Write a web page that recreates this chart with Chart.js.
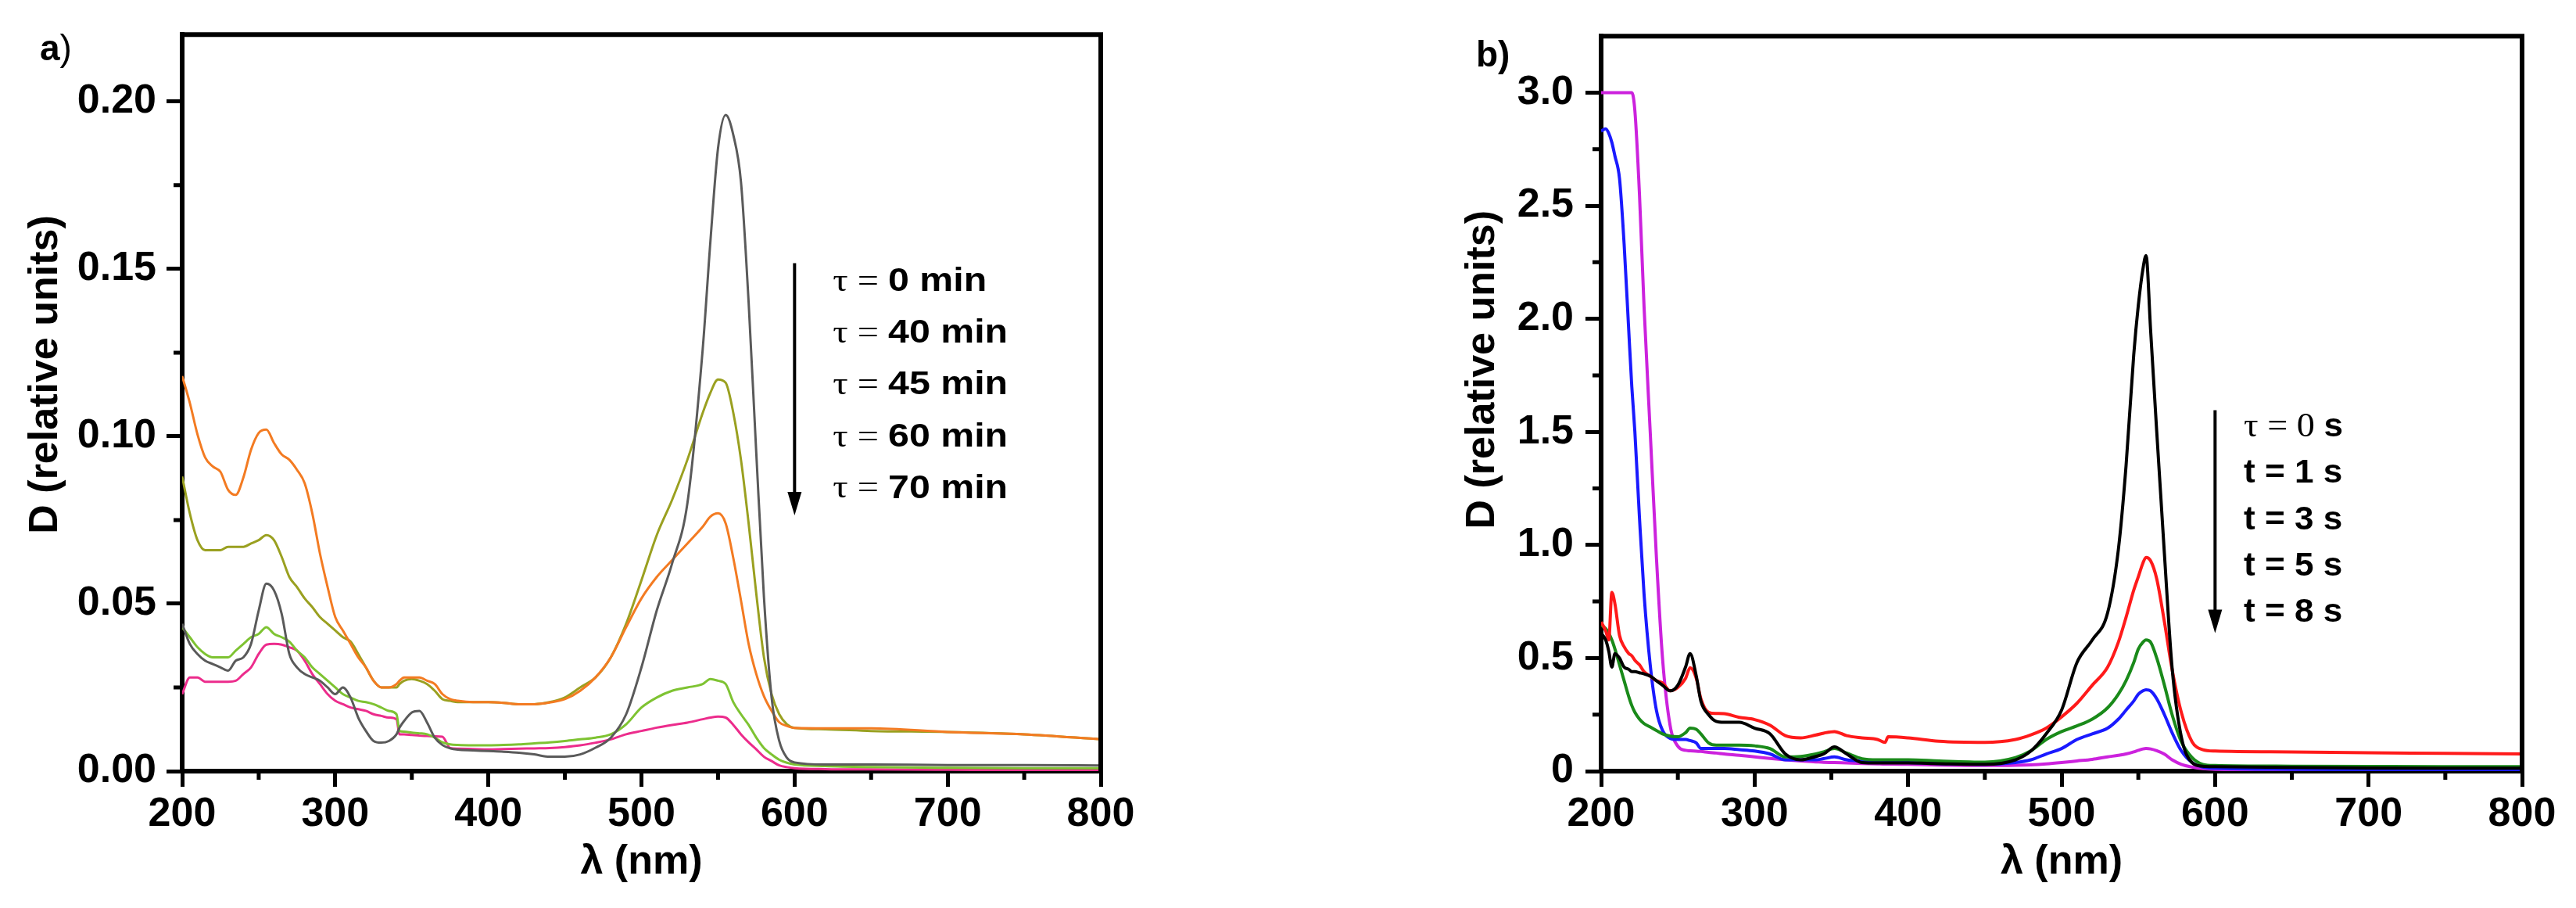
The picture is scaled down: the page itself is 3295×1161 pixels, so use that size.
<!DOCTYPE html>
<html>
<head>
<meta charset="utf-8">
<script src="https://cdn.jsdelivr.net/npm/chart.js@4.4.0/dist/chart.umd.min.js"></script>
<style>
  html, body { margin: 0; padding: 0; background: #fff; }
  #wrap { position: relative; width: 3295px; height: 1161px; overflow: hidden; background: #fff; }
  canvas { position: absolute; top: 0; }
  #chartA { left: 0; }
  #chartB { left: 1750px; }
</style>
</head>
<body>
<div id="wrap">
  <canvas id="chartA" width="1750" height="1161"></canvas>
  <canvas id="chartB" width="1545" height="1161"></canvas>
</div>
<script>
// ---- panel a) : wavelength grid (nm) and optical density D ----
const gridA = [200,205,210,215,220,225,230,235,240,245,250,255,260,265,270,275,280,285,290,295,
  300,305,310,315,320,325,330,335,340,342,345,350,355,360,365,370,375,380,
  390,400,410,420,430,440,450,460,470,480,490,500,510,520,530,540,
  545,550,555,560,565,570,575,580,585,590,595,600,620,650,700,750,800];

const tau0min = [.044,.038,.035,.033,.032,.031,.030,.033,.034,.038,
  .048,.056,.054,.047,.035,.031,.029,.028,.027,.025,
  .023,.025,.022,.016,.012,.009,.0085,.009,.011,.013,
  .015,.0175,.018,.0145,.010,.0078,.0068,.0064,
  .0062,.006,.0058,.0055,.005,.0043,.0043,.005,.007,.010,.017,.031,.048,.062,.080,.126,
  .158,.186,.196,.190,.176,.140,.095,.052,.022,.009,.004,.0026,
  .002,.002,.0018,.0018,.0017];

const tau40min = [.088,.077,.069,.066,.066,.066,.067,.067,.067,.068,
  .069,.0705,.069,.064,.058,.055,.0516,.049,.046,.044,
  .042,.040,.0387,.035,.031,.027,.025,.025,.025,.026,
  .027,.0275,.027,.026,.024,.0215,.021,.0206,
  .0206,.0206,.0204,.020,.020,.0206,.022,.025,.028,.034,.044,.057,.0705,.081,.093,.107,
  .113,.117,.116,.107,.093,.074,.053,.034,.023,.017,.014,.0129,
  .0125,.012,.0117,.011,.0095];

const tau45min = [.118,.110,.1006,.0937,.091,.0894,.084,.0825,.0877,.096,
  .101,.102,.098,.0946,.093,.090,.086,.077,.065,.055,
  .046,.042,.038,.034,.031,.027,.025,.025,.026,.027,
  .028,.028,.028,.027,.026,.023,.0215,.021,
  .0206,.0206,.0204,.020,.020,.0205,.0215,.024,.028,.034,.043,.0516,.058,.063,.068,.073,
  .076,.077,.074,.0636,.051,.038,.029,.0224,.018,.0146,.0135,.0129,
  .0128,.0128,.0117,.011,.0095];

const tau60min = [.043,.040,.037,.035,.034,.034,.034,.036,.038,.040,
  .041,.043,.041,.040,.0387,.036,.034,.031,.029,.027,
  .025,.023,.022,.021,.0206,.020,.019,.018,.017,.012,
  .0118,.0115,.0113,.011,.010,.0086,.008,.0078,
  .0077,.0077,.0078,.008,.0083,.0086,.009,.0095,.010,.011,.014,.019,.022,.024,.025,.026,
  .0275,.027,.026,.0206,.017,.0138,.010,.0069,.005,.0034,.0025,.002,
  .0015,.0012,.001,.0009,.0009];

const tau70min = [.023,.028,.028,.0267,.0267,.0267,.0267,.027,.029,.031,
  .035,.0378,.038,.0378,.037,.036,.033,.029,.026,.023,
  .021,.020,.019,.0185,.018,.017,.0165,.016,.0155,.011,
  .011,.0108,.0106,.0105,.0104,.0103,.0069,.0067,
  .0066,.0065,.0066,.0067,.0068,.0069,.0072,.0077,.0085,.0095,.011,.012,.013,.0138,.0145,.0155,
  .016,.0163,.016,.0138,.011,.0086,.0065,.0043,.003,.0017,.0012,.0009,
  .0006,.0005,.0004,.0003,.0003];

// ---- panel b) ----
const gridB = [200,203,205,207,209,212,215,218,220,222,
  225,228,232,236,240,245,250,255,258,262,
  265,270,275,280,290,300,310,320,330,340,
  345,352,360,370,380,385,387,400,420,450,
  470,480,490,500,510,520,530,537,542,547,
  550,553,555,558,562,567,572,578,585,592,
  600,650,700,750,800];

const t0s = [.61,.58,.53,.46,.52,.50,.46,.45,.44,.44,
  .435,.43,.42,.40,.38,.355,.38,.46,.52,.42,
  .31,.25,.22,.216,.216,.19,.165,.076,.05,.065,
  .076,.107,.076,.038,.036,.036,.036,.036,.033,.03,
  .05,.089,.165,.27,.48,.58,.70,.98,1.35,1.84,
  2.06,2.22,2.28,1.95,1.5,.96,.457,.152,.038,.022,
  .02,.016,.014,.013,.013];

const t1s = [.66,.62,.58,.79,.74,.60,.55,.52,.51,.49,
  .47,.44,.42,.40,.39,.355,.37,.41,.457,.41,
  .32,.26,.255,.254,.238,.228,.203,.157,.147,.16,
  .168,.175,.157,.147,.14,.127,.152,.147,.132,.127,
  .14,.16,.19,.24,.30,.38,.46,.57,.68,.80,
  .86,.92,.945,.93,.85,.66,.45,.26,.13,.095,
  .089,.085,.081,.079,.076];

const t3s = [.647,.63,.61,.58,.54,.47,.40,.33,.29,.26,
  .23,.21,.195,.18,.165,.155,.152,.17,.19,.185,
  .165,.125,.115,.115,.115,.112,.10,.063,.065,.076,
  .085,.10,.08,.055,.05,.05,.05,.05,.045,.04,
  .06,.09,.14,.175,.20,.23,.28,.34,.40,.48,
  .54,.57,.58,.57,.50,.38,.25,.13,.06,.03,
  .025,.022,.021,.02,.02];

const t5s = [2.83,2.84,2.82,2.78,2.72,2.62,2.33,1.95,1.70,1.50,
  1.12,.78,.47,.27,.18,.145,.14,.14,.135,.125,
  .10,.10,.10,.10,.095,.089,.076,.05,.05,.05,
  .055,.063,.05,.044,.04,.04,.04,.038,.034,.03,
  .038,.05,.076,.10,.14,.165,.19,.23,.27,.31,
  .34,.355,.36,.355,.32,.25,.17,.09,.038,.018,
  .013,.008,.006,.005,.005];

const t8s = [3.0,3.0,3.0,3.0,3.0,3.0,3.0,3.0,3.0,2.92,
  2.55,2.05,1.5,.95,.5,.2,.11,.092,.09,.088,
  .087,.083,.08,.076,.07,.063,.056,.05,.045,.041,
  .039,.038,.036,.034,.032,.031,.031,.03,.027,.025,
  .026,.028,.032,.038,.045,.052,.063,.07,.076,.085,
  .092,.098,.10,.098,.09,.075,.05,.03,.018,.011,
  .008,.006,.005,.005,.005];

// ---- ticks ----
const xTicks = [200, 300, 400, 500, 600, 700, 800];
const xMinor = [250, 350, 450, 550, 650, 750];
const yTicksA = [0, 0.05, 0.10, 0.15, 0.20];
const yMinorA = [0.025, 0.075, 0.125, 0.175];
const yTicksB = [0, 0.5, 1.0, 1.5, 2.0, 2.5, 3.0];
const yMinorB = [0.25, 0.75, 1.25, 1.75, 2.25, 2.75];

const legendA = ['0 min', '40 min', '45 min', '60 min', '70 min'];
const legendB = ['0', '1', '3', '5', '8'];

const SANS = '"Liberation Sans", Arial, sans-serif';
const SERIF = '"Liberation Serif", "Times New Roman", serif';

function series(grid, vals, color, width) {
    return {
        data: grid.map((x, i) => ({ x: x, y: vals[i] })),
        borderColor: color,
        borderWidth: width,
        pointRadius: 0,
        cubicInterpolationMode: 'monotone',
        fill: false
    };
}

// frame on top/right plus short minor ticks on the bottom/left axes
const frameMinor = {
    id: 'frameMinor',
    afterDraw(chart, args, opts) {
        const { ctx, chartArea: a, scales: { x, y } } = chart;
        ctx.save();
        ctx.strokeStyle = '#000';
        ctx.lineWidth = 6;
        ctx.lineCap = 'square';
        ctx.beginPath();
        ctx.moveTo(a.left, a.top);
        ctx.lineTo(a.right, a.top);
        ctx.lineTo(a.right, a.bottom);
        ctx.stroke();
        ctx.lineWidth = 5;
        ctx.lineCap = 'butt';
        ctx.beginPath();
        opts.xMinor.forEach(v => {
            const px = x.getPixelForValue(v);
            ctx.moveTo(px, a.bottom);
            ctx.lineTo(px, a.bottom + 11);
        });
        opts.yMinor.forEach(v => {
            const py = y.getPixelForValue(v);
            ctx.moveTo(a.left, py);
            ctx.lineTo(a.left - 11, py);
        });
        ctx.stroke();
        ctx.restore();
    }
};

// arrow + time labels + panel letter
const timeLegend = {
    id: 'timeLegend',
    afterDraw(chart, args, opts) {
        const { ctx, chartArea: a, scales: { x, y } } = chart;
        const ax = x.getPixelForValue(opts.arrowX);
        const y0 = y.getPixelForValue(opts.arrowFrom);
        const y1 = y.getPixelForValue(opts.arrowTo);
        ctx.save();
        ctx.strokeStyle = '#000';
        ctx.fillStyle = '#000';
        ctx.lineWidth = 4;
        ctx.beginPath();
        ctx.moveTo(ax, y0);
        ctx.lineTo(ax, y1 - 20);
        ctx.stroke();
        ctx.beginPath();
        ctx.moveTo(ax - 9, y1 - 30);
        ctx.lineTo(ax + 9, y1 - 30);
        ctx.lineTo(ax, y1);
        ctx.closePath();
        ctx.fill();

        const tx = x.getPixelForValue(opts.textX);
        ctx.textBaseline = 'middle';
        ctx.textAlign = 'left';
        opts.rows.forEach((runs, i) => {
            const ty = y.getPixelForValue(opts.rowY[i]);
            ctx.save();
            ctx.translate(tx, ty);
            ctx.scale(opts.stretch, 1);
            let cx = 0;
            runs.forEach(r => {
                ctx.font = r.font;
                ctx.fillText(r.text, cx, 0);
                cx += ctx.measureText(r.text).width;
            });
            ctx.restore();
        });

        let lx = a.left + opts.letterDX;
        opts.letter.forEach(r => {
            ctx.font = r.font;
            ctx.fillText(r.text, lx, a.top + opts.letterDY);
            lx += ctx.measureText(r.text).width;
        });
        ctx.restore();
    }
};

function axisOpts(ticks, fmt, size, pad) {
    return {
        type: 'linear',
        afterBuildTicks: s => { s.ticks = ticks.map(v => ({ value: v })); },
        ticks: {
            color: '#000',
            padding: pad,
            font: { family: SANS, size: size, weight: 'bold' },
            callback: fmt
        },
        grid: {
            display: true,
            drawOnChartArea: false,
            drawTicks: true,
            tickLength: 20,
            tickWidth: 5,
            tickColor: '#000'
        },
        border: { display: true, color: '#000', width: 6 }
    };
}

function buildChart(id, cfg) {
    const xAxis = axisOpts(xTicks, v => String(v), 52, 4);
    xAxis.min = 200;
    xAxis.max = 800;
    xAxis.afterFit = s => { s.height = cfg.xHeight; };
    xAxis.title = {
        display: true,
        text: 'λ (nm)',
        color: '#000',
        font: { family: SANS, size: 52, weight: 'bold', lineHeight: 1.2 },
        padding: { top: 0, bottom: 27 }
    };

    const yAxis = axisOpts(cfg.yTicks, cfg.yFmt, 52, cfg.yPad);
    yAxis.min = 0;
    yAxis.max = cfg.yMax;
    yAxis.afterFit = s => { s.width = cfg.yWidth; };
    yAxis.title = {
        display: true,
        text: cfg.yTitle,
        color: '#000',
        font: { family: SANS, size: 52, weight: 'bold', lineHeight: 1.2 },
        padding: { top: cfg.yTitlePad, bottom: 0 }
    };

    return new Chart(document.getElementById(id), {
        type: 'line',
        data: { datasets: cfg.datasets },
        options: {
            responsive: false,
            animation: false,
            events: [],
            layout: { padding: { left: 0, top: 37, right: cfg.padRight, bottom: 0 } },
            plugins: {
                legend: { display: false },
                tooltip: { enabled: false },
                frameMinor: { xMinor: xMinor, yMinor: cfg.yMinor },
                timeLegend: cfg.legend
            },
            scales: { x: xAxis, y: yAxis }
        },
        plugins: [frameMinor, timeLegend]
    });
}

const tauRun = { text: 'τ = ', font: '42px ' + SERIF };

buildChart('chartA', {
    xHeight: 175,
    yWidth: 233,
    padRight: 342,
    yMax: 0.22,
    yTicks: yTicksA,
    yMinor: yMinorA,
    yPad: 13,
    yFmt: v => v.toFixed(2),
    yTitle: '     D (relative units)',
    yTitlePad: 27,
    datasets: [
        series(gridA, tau0min, '#5a5a5a', 3),
        series(gridA, tau45min, '#f37b22', 3),
        series(gridA, tau40min, '#9aa020', 3),
        series(gridA, tau60min, '#7ec332', 3),
        series(gridA, tau70min, '#ec2c8c', 3)
    ],
    legend: {
        arrowX: 600, arrowFrom: 0.1517, arrowTo: 0.0764,
        textX: 625,
        rowY: [0.1461, 0.1307, 0.1152, 0.0996, 0.0843],
        stretch: 1.15,
        rows: legendA.map(t => [tauRun, { text: t, font: 'bold 42px ' + SANS }]),
        letter: [{ text: 'a', font: 'bold 46px ' + SANS }, { text: ')', font: '46px ' + SANS }],
        letterDX: -182, letterDY: 20
    }
});

buildChart('chartB', {
    xHeight: 175,
    yWidth: 298,
    padRight: 69,
    yMax: 3.25,
    yTicks: yTicksB,
    yMinor: yMinorB,
    yPad: 15,
    yFmt: v => (v === 0 ? '0' : v.toFixed(1)),
    yTitle: '      D (relative units)',
    yTitlePad: 115,
    datasets: [
        series(gridB, t0s, '#000000', 4),
        series(gridB, t1s, '#ff1a1a', 4),
        series(gridB, t3s, '#1a8a1a', 4),
        series(gridB, t5s, '#1a1aff', 4),
        series(gridB, t8s, '#cc22dd', 4)
    ],
    legend: {
        arrowX: 600, arrowFrom: 1.596, arrowTo: 0.61,
        textX: 618.7,
        rowY: [1.521, 1.315, 1.11, 0.904, 0.699],
        stretch: 1.05,
        rows: legendB.map((t, i) => i === 0
            ? [{ text: 'τ = 0 ', font: '44px ' + SERIF }, { text: 's', font: 'bold 42px ' + SANS }]
            : [{ text: 't = ' + t + ' s', font: 'bold 42px ' + SANS }]),
        letter: [{ text: 'b)', font: 'bold 46px ' + SANS }],
        letterDX: -160, letterDY: 26
    }
});
</script>
</body>
</html>
